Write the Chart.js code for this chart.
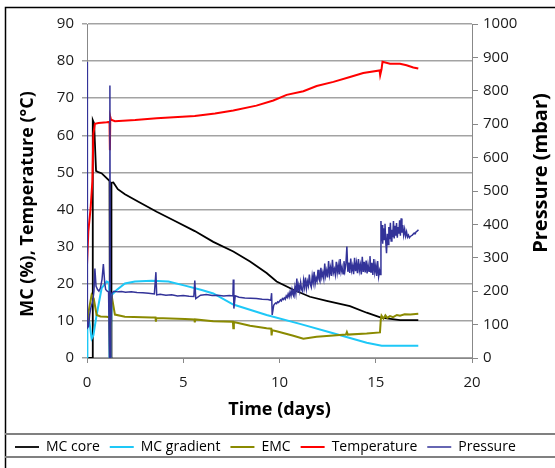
<!DOCTYPE html>
<html>
<head>
<meta charset="utf-8">
<script src="https://cdn.jsdelivr.net/npm/chart.js@4.4.1/dist/chart.umd.min.js"></script>
<style>
  html, body { margin: 0; padding: 0; background: #fff; }
</style>
</head>
<body>
<canvas id="drying" width="555" height="468"></canvas>
<script>
// time axis of every series is in days from the start of the run
var coreDays = [0, 0.27, 0.3, 0.37, 0.47, 0.59, 0.75, 0.9, 1.14, 1.17, 1.19, 1.25, 1.27, 1.37, 1.6, 1.97, 2.67, 3.62, 4.57, 5.6, 6.56, 7.6, 8.47, 9.33, 9.85, 10.72, 11.58, 12.45, 13.66, 14.53, 15.27, 16.26, 17.21];
var coreMC = [0, 0, 64.1, 63.2, 50.4, 50.1, 49.8, 49.1, 47.9, 47.6, 0, 0, 47.2, 47.3, 45.5, 44.1, 42.1, 39.4, 36.9, 34.2, 31.3, 28.7, 26.0, 22.9, 20.6, 18.4, 16.5, 15.4, 14.0, 12.2, 10.9, 10.2, 10.2];

var gradDays = [0, 0.02, 0.12, 0.24, 0.33, 0.5, 0.76, 1.02, 1.15, 1.17, 1.22, 1.24, 1.28, 1.54, 1.97, 2.49, 3.36, 4.23, 5.09, 5.96, 6.56, 7.6, 9.33, 11.06, 12.7, 14.53, 15.31, 17.21];
var gradMC = [0, 11, 9.8, 5.2, 6.1, 11.6, 18.8, 20.6, 20.3, 0, 0, 4.3, 17, 18.3, 20.1, 20.6, 20.8, 20.6, 19.5, 18.3, 17.4, 14.4, 11.6, 9.2, 6.8, 4.1, 3.3, 3.3];

var emcDays = [0, 0.05, 0.24, 0.35, 0.5, 0.7, 1.0, 1.17, 1.19, 1.22, 1.25, 1.3, 1.45, 1.97, 3.36, 3.56, 3.58, 3.6, 5.09, 5.58, 5.6, 5.62, 6.56, 7.58, 7.6, 7.63, 8.47, 9.33, 9.57, 9.59, 9.62, 9.85, 10.72, 11.24, 11.93, 12.62, 13.45, 13.5, 13.55, 14.53, 15.22, 15.26, 15.3, 15.4, 15.5, 15.6, 15.74, 15.9, 16.1, 16.26, 16.5, 16.8, 17.21];
var emcVals = [10, 11.6, 17, 16, 11.6, 11.2, 11.1, 11, 0, 0, 15.5, 16.2, 11.7, 11.1, 10.9, 10.9, 9.8, 10.8, 10.5, 10.4, 9.6, 10.4, 9.9, 9.8, 8, 9.7, 8.7, 8.0, 7.9, 6.1, 7.5, 7.2, 6.0, 5.2, 5.7, 6.0, 6.3, 7.0, 6.3, 6.6, 6.9, 10.2, 11.4, 10.6, 11.5, 10.8, 11.3, 11.0, 11.6, 11.4, 11.8, 11.7, 11.9];

var tempDays = [0, 0.07, 0.19, 0.28, 0.33, 0.41, 0.6, 1.02, 1.17, 1.19, 1.21, 1.25, 1.45, 2.5, 3.62, 5.6, 6.65, 7.6, 8.8, 9.68, 10.37, 11.24, 11.93, 12.8, 13.66, 14.35, 15.2, 15.23, 15.3, 15.35, 15.74, 16.26, 16.6, 16.95, 17.21];
var tempVals = [25, 34.2, 40.5, 47.7, 60.4, 63.1, 63.3, 63.5, 63.6, 56, 65, 64.2, 63.8, 64.1, 64.6, 65.2, 65.9, 66.7, 68.0, 69.4, 70.9, 71.9, 73.3, 74.4, 75.7, 76.8, 77.5, 76.2, 77.8, 79.8, 79.3, 79.3, 78.9, 78.3, 78.0];

var pressDays = [0, 0.02, 0.08, 0.14, 0.2, 0.3, 0.36, 0.41, 0.47, 0.55, 0.62, 0.7, 0.78, 0.85, 0.92, 0.97, 1.05, 1.12, 1.17, 1.19, 1.21, 1.24, 1.3, 1.4, 1.6, 1.8, 2.0, 2.3, 2.6, 2.9, 3.2, 3.5, 3.58, 3.62, 3.8, 4.1, 4.4, 4.7, 5.0, 5.3, 5.55, 5.6, 5.65, 5.9, 6.2, 6.5, 6.8, 7.1, 7.4, 7.58, 7.6, 7.63, 7.7, 7.9, 8.2, 8.5, 8.8, 9.1, 9.4, 9.55, 9.59, 9.62,
  9.7, 9.75, 9.8, 9.85, 9.9, 9.95, 10.0, 10.05, 10.1, 10.15, 10.2, 10.25, 10.3, 10.35, 10.4, 10.45, 10.5, 10.55, 10.6, 10.65, 10.7, 10.75, 10.8, 10.85, 10.9, 10.95,
  11.0, 11.05, 11.1, 11.15, 11.2, 11.25, 11.3, 11.35, 11.4, 11.45, 11.5, 11.55, 11.6, 11.65, 11.7, 11.75, 11.8, 11.85, 11.9, 11.95,
  12.0, 12.05, 12.1, 12.15, 12.2, 12.25, 12.3, 12.35, 12.4, 12.45, 12.5, 12.55, 12.6, 12.65, 12.7, 12.75, 12.8, 12.85, 12.9, 12.95,
  13.0, 13.05, 13.1, 13.15, 13.2, 13.25, 13.3, 13.35, 13.4, 13.45, 13.5, 13.55, 13.6, 13.65, 13.7, 13.75, 13.8, 13.85, 13.9, 13.95,
  14.0, 14.05, 14.1, 14.15, 14.2, 14.25, 14.3, 14.35, 14.4, 14.45, 14.5, 14.55, 14.6, 14.65, 14.7, 14.75, 14.8, 14.85, 14.9, 14.95,
  15.0, 15.05, 15.1, 15.15, 15.2, 15.24, 15.27, 15.3, 15.33, 15.36, 15.4, 15.44, 15.48, 15.52, 15.56, 15.6, 15.64, 15.68, 15.72, 15.76, 15.8, 15.84, 15.88, 15.92, 15.96,
  16.0, 16.04, 16.08, 16.12, 16.16, 16.2, 16.24, 16.28, 16.32, 16.36, 16.4, 16.45, 16.5, 16.55, 16.6, 16.65, 16.7, 16.75, 16.8, 16.85, 16.9, 16.95,
  17.0, 17.05, 17.1, 17.15, 17.22];
var pressVals = [886, 90, 95, 130, 150, 170, 200, 268, 215, 205, 200, 210, 235, 281, 225, 205, 200, 198, 0, 816, 0, 100, 195, 200, 198, 199, 197, 198, 196, 195, 194, 192, 257, 189, 191, 188, 189, 186, 187, 185, 184, 232, 178, 188, 190, 187, 188, 186, 187, 186, 235, 148, 186, 182, 180, 179, 178, 176, 175, 173, 194, 129,
  158, 162, 165, 163, 168, 166, 170, 174, 171, 178, 175, 180, 176, 186, 181, 192, 183, 198, 186, 205, 190, 184, 212, 193, 238, 196,
  218, 201, 226, 205, 199, 233, 212, 241, 208, 229, 216, 250, 221, 212, 246, 226, 258, 222, 240, 230,
  264, 236, 229, 270, 242, 256, 238, 283, 246, 262, 241, 290, 250, 270, 246, 294, 255, 266, 249, 288,
  256, 278, 250, 296, 258, 272, 252, 290, 262, 282, 334, 258, 286, 255, 298, 262, 276, 251, 300, 260,
  284, 254, 296, 262, 279, 250, 303, 258, 288, 256, 292, 253, 280, 260, 305, 255, 285, 249, 296, 257,
  278, 246, 290, 244, 262, 250, 410, 350, 398, 342, 388, 355, 402, 348, 314, 372, 340, 392, 356, 405, 350, 384, 362, 410, 358,
  396, 366, 404, 360, 392, 372, 412, 366, 418, 375, 398, 368, 386, 365, 378, 362, 368, 360, 364, 366, 368, 371,
  374, 372, 378, 380, 384];

var seriesNames = ['MC core', 'MC gradient', 'EMC', 'Temperature', 'Pressure'];
var seriesColors = ['#000000', '#1ec8f7', '#8a8a00', '#ff0000', '#333399'];

function pairs(xs, ys) {
  return xs.map(function (x, i) { return { x: x, y: ys[i] }; });
}

Chart.defaults.font.family = "'Open Sans', sans-serif";
Chart.defaults.color = '#1a1a1a';

// outer border, legend box rules and the two vertical axis titles
var framePlugin = {
  id: 'frame',
  afterDraw: function (chart) {
    var ctx = chart.ctx;
    var area = chart.chartArea;
    var mid = (area.top + area.bottom) / 2;
    ctx.save();
    ctx.strokeStyle = '#000';
    ctx.lineWidth = 1.5;
    ctx.beginPath();
    ctx.moveTo(5.5, 468);
    ctx.lineTo(5.5, 7.5);
    ctx.lineTo(555, 7.5);
    ctx.stroke();

    ctx.strokeStyle = '#808080';
    ctx.lineWidth = 2;
    ctx.beginPath();
    ctx.moveTo(5, 434);
    ctx.lineTo(555, 434);
    ctx.moveTo(5, 457);
    ctx.lineTo(555, 457);
    ctx.stroke();

    ctx.fillStyle = '#000';
    ctx.textAlign = 'center';
    ctx.textBaseline = 'middle';
    ctx.save();
    ctx.font = "bold 18px 'Open Sans'";
    ctx.translate(28, mid + 13);
    ctx.rotate(-Math.PI / 2);
    ctx.fillText('MC (%), Temperature (°C)', 0, 0);
    ctx.restore();
    ctx.save();
    ctx.font = "bold 20px 'Open Sans'";
    ctx.translate(541, mid - 18);
    ctx.rotate(-Math.PI / 2);
    ctx.fillText('Pressure (mbar)', 0, 0);
    ctx.restore();
    ctx.restore();
  }
};

var ctx = document.getElementById('drying');
var drying = new Chart(ctx, {
  type: 'line',
  data: {
    datasets: [
      { label: seriesNames[0], data: pairs(coreDays, coreMC), borderColor: seriesColors[0], borderWidth: 1.8, yAxisID: 'y', order: 4 },
      { label: seriesNames[1], data: pairs(gradDays, gradMC), borderColor: seriesColors[1], borderWidth: 2, yAxisID: 'y', order: 3 },
      { label: seriesNames[2], data: pairs(emcDays, emcVals), borderColor: seriesColors[2], borderWidth: 2, yAxisID: 'y', order: 2 },
      { label: seriesNames[3], data: pairs(tempDays, tempVals), borderColor: seriesColors[3], borderWidth: 2, yAxisID: 'y', order: 1 },
      { label: seriesNames[4], data: pairs(pressDays, pressVals), borderColor: seriesColors[4], borderWidth: 1.5, yAxisID: 'y1', order: 0 }
    ]
  },
  options: {
    responsive: false,
    animation: false,
    devicePixelRatio: 1,
    elements: {
      point: { radius: 0 },
      line: { tension: 0, fill: false }
    },
    layout: {
      padding: { left: 5, right: 0, top: 24, bottom: 4 }
    },
    plugins: {
      tooltip: { enabled: false },
      legend: {
        position: 'bottom',
        align: 'start',
        labels: {
          usePointStyle: true,
          pointStyle: 'line',
          pointStyleWidth: 24,
          padding: 10,
          color: '#000',
          font: { size: 14 },
          sort: function (a, b) { return a.datasetIndex - b.datasetIndex; }
        }
      }
    },
    scales: {
      x: {
        type: 'linear',
        min: 0,
        max: 20,
        ticks: { stepSize: 5, padding: 11, font: { size: 15 } },
        grid: { drawOnChartArea: false, tickLength: 5, color: '#888' },
        border: { color: '#888' },
        title: { display: true, text: 'Time (days)', color: '#000', font: { size: 18, weight: 'bold' }, padding: { top: 0, bottom: 9 } },
        afterFit: function (scale) { scale.height = 72; }
      },
      y: {
        position: 'left',
        min: 0,
        max: 90,
        ticks: { stepSize: 10, padding: 8, font: { size: 15 } },
        grid: { color: '#a3a3a3', lineWidth: 1.5, tickLength: 5 },
        border: { color: '#888' },
        afterFit: function (scale) { scale.width = 82; }
      },
      y1: {
        position: 'right',
        min: 0,
        max: 1000,
        ticks: { stepSize: 100, padding: 5, font: { size: 15 }, callback: function (v) { return String(v); } },
        grid: { drawOnChartArea: false, tickLength: 6, color: '#888' },
        border: { color: '#888' },
        afterFit: function (scale) { scale.width = 83; }
      }
    }
  },
  plugins: [framePlugin]
});
</script>
</body>
</html>
